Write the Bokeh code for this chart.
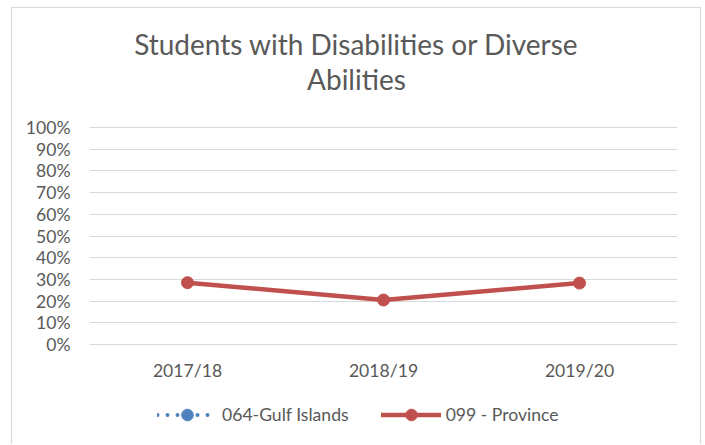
import math
from bokeh.plotting import figure
from bokeh.models import (FactorRange, Range1d, NumeralTickFormatter, FixedTicker,
                          Legend, LegendItem, Label, LabelSet, ColumnDataSource)
from bokeh.core.properties import value
from bokeh.embed import file_html
from bokeh.resources import INLINE

# ---- data ----
years = ["2017/18", "2018/19", "2019/20"]
gulf_islands = [math.nan, math.nan, math.nan]
province = [0.285, 0.205, 0.283]
y_ticks = [0.0, 0.1, 0.2, 0.3, 0.4, 0.5, 0.6, 0.7, 0.8, 0.9, 1.0]
title_lines = ["Students with Disabilities or Diverse", "Abilities"]
series_names = ["064-Gulf Islands", "099 - Province"]

FONT = "Lato"
TXT = "#595959"
GRID = "#d9d9d9"
RED = "#c0504d"
BLUE = "#4f81bd"
BORDER = "1px solid #d9d9d9"
FS = "17.6px"

# frame covers the whole canvas height; 0..1 maps to the reference plot area
p = figure(frame_width=588, frame_height=436, output_backend="svg", toolbar_location=None,
           x_range=FactorRange(*years, range_padding=0),
           y_range=Range1d(-0.4608, 1.5484),
           min_border_left=77, min_border_right=23, min_border_top=0,
           min_border_bottom=0,
           styles={"border-top": BORDER, "border-left": BORDER, "border-right": BORDER,
                   "margin-left": "11px", "margin-top": "7px"})
p.outline_line_color = None
p.background_fill_color = "white"
p.border_fill_color = "white"

p.xaxis.visible = False

p.yaxis.axis_line_color = None
p.yaxis.major_tick_line_color = None
p.yaxis.minor_tick_line_color = None
p.yaxis.ticker = FixedTicker(ticks=y_ticks)
p.yaxis.formatter = NumeralTickFormatter(format="0%")
p.yaxis.major_label_text_font = FONT
p.yaxis.major_label_text_font_size = FS
p.yaxis.major_label_text_color = TXT
p.yaxis.major_label_standoff = 13

p.xgrid.grid_line_color = None
p.ygrid.grid_line_color = GRID
p.ygrid.grid_line_width = 1
p.ygrid.ticker = FixedTicker(ticks=y_ticks)

# category labels under the plot area
cat_src = ColumnDataSource(dict(years=years))
p.add_layout(LabelSet(x="years", y=-0.1198, source=cat_src, text="years",
                      text_align="center", text_baseline="middle",
                      text_font=value(FONT), text_font_size=value(FS),
                      text_color=TXT))

# series
bl = p.line(years, gulf_islands, line_color=BLUE, line_width=4, line_dash="0 10",
            line_cap="round")
bm = p.scatter(years, gulf_islands, size=11, fill_color=BLUE, line_color=BLUE)
rl = p.line(years, province, line_color=RED, line_width=4.5, line_cap="round")
rm = p.scatter(years, province, size=12, fill_color=RED, line_color=RED)

legend = Legend(items=[LegendItem(label=series_names[0], renderers=[bl, bm]),
                       LegendItem(label=series_names[1], renderers=[rl, rm])],
                orientation="horizontal", location=(68, 15.5),
                glyph_width=60, glyph_height=29, label_standoff=5, spacing=32,
                padding=0, margin=0, border_line_color=None,
                background_fill_alpha=0,
                label_text_font=FONT, label_text_font_size=FS,
                label_text_color=TXT)
p.add_layout(legend, "center")

# title (two centered lines)
for txt, yy in zip(title_lines, [1.385, 1.2235]):
    p.add_layout(Label(x=1.362, y=yy, text=txt, text_align="center",
                       text_baseline="alphabetic", text_font=FONT,
                       text_font_size="28px", text_color=TXT))

open("out.html", "w").write(file_html(p, INLINE))
